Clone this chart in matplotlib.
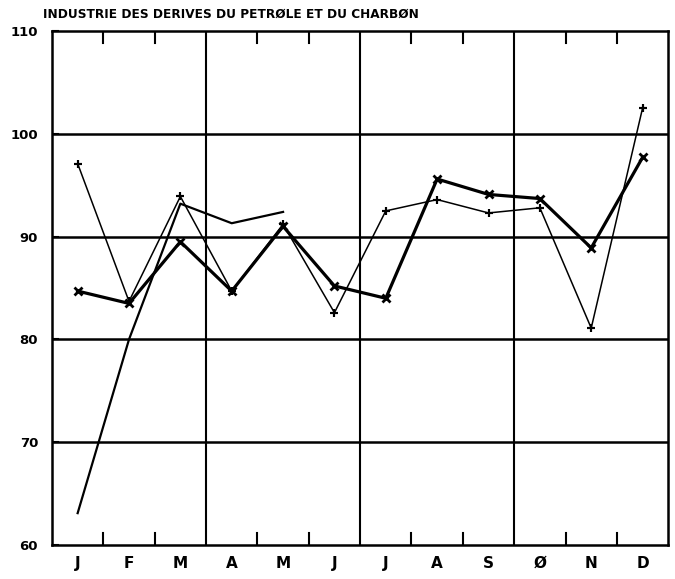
import numpy as np
import matplotlib
matplotlib.use("Agg")
import matplotlib.pyplot as plt

# month labels (the plotter draws the letter O with a slash)
months = ["J", "F", "M", "A", "M", "J", "J", "A", "S", "Ø", "N", "D"]
yticks = [60, 70, 80, 90, 100, 110]

# thin line, star markers
serie_fine = [97.1, 83.7, 93.9, 84.7, 91.2, 82.6, 92.5, 93.6, 92.3, 92.8, 81.1, 102.5]
# thick line, x markers
serie_grasse = [84.7, 83.5, 89.5, 84.7, 91.0, 85.2, 84.0, 95.6, 94.1, 93.7, 88.9, 97.7]
# partial year, no markers
serie_courante = [63.1, 80.0, 93.2, 91.3, 92.4]

title = "INDUSTRIE DES DERIVES DU PETRØLE ET DU CHARBØN"

fig = plt.figure(figsize=(6.75, 5.79), dpi=100)
ax = fig.add_axes([0.077, 0.0587, 0.913, 0.8878])

x = np.arange(12) + 0.5
ax.plot(x, serie_fine, color="black", lw=1.1, marker=(4, 2, 0), ms=6, mew=1.5)
ax.plot(x, serie_grasse, color="black", lw=2.3, marker="x", ms=6, mew=2)
ax.plot(x[:len(serie_courante)], serie_courante, color="black", lw=1.6)

ax.set_xlim(0, 12)
ax.set_ylim(60, 110)

for v in [70, 80, 90, 100]:
    ax.axhline(v, color="black", lw=1.8, zorder=0)
for q in [3, 6, 9]:
    ax.axvline(q, color="black", lw=1.5, zorder=0)
for m in [1, 2, 4, 5, 7, 8, 10, 11]:
    ax.plot([m, m], [110, 108.8], color="black", lw=1.5)
    ax.plot([m, m], [60, 61.2], color="black", lw=1.5)

for s in ax.spines.values():
    s.set_linewidth(1.8)

ax.set_xticks(x)
ax.set_xticklabels(months, fontsize=11, fontweight="bold")
ax.set_yticks(yticks)
ax.set_yticklabels([str(t) for t in yticks], fontsize=9.5, fontweight="bold")
ax.tick_params(axis="x", length=0, pad=8)
ax.tick_params(axis="y", direction="in", length=5, width=1.5, pad=10)

fig.text(0.064, 0.975, title, fontsize=8.7, fontweight="bold", ha="left", va="center")

fig.savefig("out.png", dpi=100)
